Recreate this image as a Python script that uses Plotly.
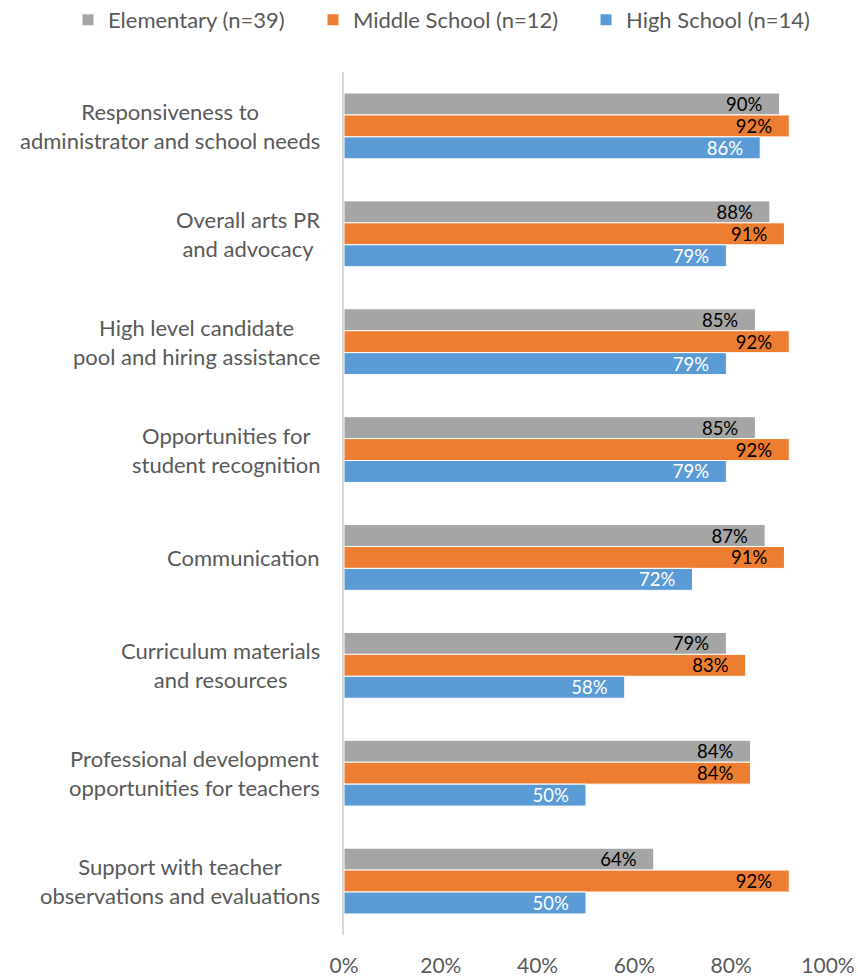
import plotly.graph_objects as go

# Survey items, listed top to bottom
categories = [
    "Responsiveness to<br>administrator and school needs",
    "Overall arts PR<br>and advocacy",
    "High level candidate<br>pool and hiring assistance",
    "Opportunities for<br>student recognition",
    "Communication",
    "Curriculum materials<br>and resources",
    "Professional development<br>opportunities for teachers",
    "Support with teacher<br>observations and evaluations",
]
cat_keys = [f"c{i}" for i in range(len(categories))]

elementary = [90, 88, 85, 85, 87, 79, 84, 64]
middle = [92, 91, 92, 92, 91, 83, 84, 92]
high = [86, 79, 79, 79, 72, 58, 50, 50]

series = [
    ("Elementary (n=39)", elementary, "#A5A5A5", "#000000"),
    ("Middle School (n=12)", middle, "#ED7D31", "#000000"),
    ("High School (n=14)", high, "#5B9BD5", "#FFFFFF"),
]

x_ticks = [0, 20, 40, 60, 80, 100]
x_tick_text = [f"{t}%" for t in x_ticks]

FONT = "Lato"
GRAY_TEXT = "#595959"
PAD = "\u00a0" * 3
W, H = 858, 977

# one legend box per series, laid out in a row across the top
legend_ids = ["legend", "legend2", "legend3"]
legend_text_left = [108, 353, 626]

fig = go.Figure()
for (name, vals, color, txtcolor), lid in zip(series, legend_ids):
    fig.add_trace(go.Bar(
        y=cat_keys,
        x=vals,
        name=name,
        legend=lid,
        orientation="h",
        marker=dict(color=color, line=dict(color="#FFFFFF", width=1)),
        text=[f"{v}%{PAD}" for v in vals],
        textposition="inside",
        insidetextanchor="end",
        textangle=0,
        constraintext="none",
        textfont=dict(family=FONT, size=18.5, color=txtcolor),
        cliponaxis=False,
        hoverinfo="skip",
    ))

# Category labels: right-aligned block, lines centred within it
for key, label in zip(cat_keys, categories):
    fig.add_annotation(
        x=-0.045, xref="paper", xanchor="right",
        y=key, yref="y", yanchor="middle",
        text=label, align="center", showarrow=False,
        font=dict(family=FONT, size=22, color=GRAY_TEXT),
    )

legend_layouts = {}
for lid, tx in zip(legend_ids, legend_text_left):
    legend_layouts[lid] = dict(
        orientation="h", xref="container", x=(tx - 40) / W, xanchor="left",
        yref="container", y=1 - 20 / H, yanchor="middle",
        font=dict(family=FONT, size=22, color=GRAY_TEXT),
        bgcolor="rgba(0,0,0,0)", borderwidth=0, itemclick=False,
    )

fig.update_layout(
    width=W, height=H,
    margin=dict(l=344, r=30, t=72, b=42, autoexpand=False),
    paper_bgcolor="#FFFFFF", plot_bgcolor="#FFFFFF",
    barmode="group", bargap=0.39, bargroupgap=0,
    font=dict(family=FONT, color=GRAY_TEXT),
    showlegend=True,
    **legend_layouts,
    xaxis=dict(
        range=[0, 100], tickvals=x_ticks, ticktext=x_tick_text,
        showgrid=False, zeroline=False, showline=False,
        ticks="outside", ticklen=12, tickcolor="rgba(0,0,0,0)",
        tickfont=dict(family=FONT, size=21, color=GRAY_TEXT),
        automargin=False, fixedrange=True,
    ),
    yaxis=dict(
        categoryorder="array", categoryarray=cat_keys,
        autorange="reversed", showticklabels=False, ticks="",
        showgrid=False, zeroline=False,
        showline=True, linecolor="#D9D9D9", linewidth=1.5,
        automargin=False, fixedrange=True,
    ),
)

fig.write_html("out.html")
